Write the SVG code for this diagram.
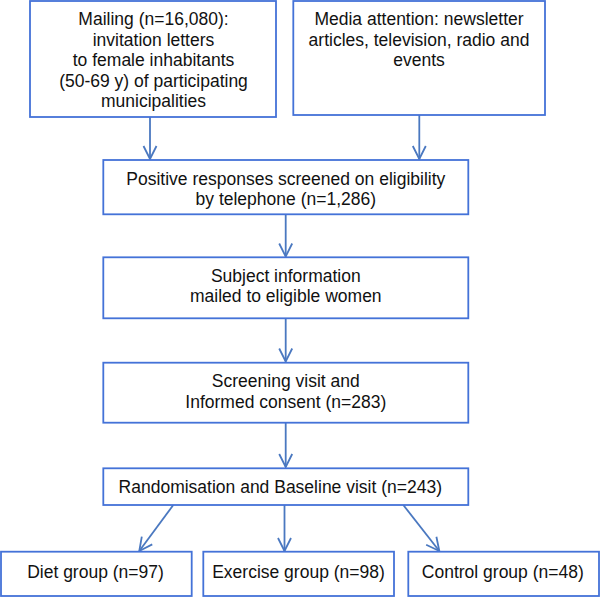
<svg xmlns="http://www.w3.org/2000/svg" width="600" height="597" viewBox="0 0 600 597">
<style>
.box{fill:#fff;stroke:#4472d8;stroke-width:1.8}
.t{font-family:"Liberation Sans",Arial,sans-serif;font-size:17.5px;fill:#111;text-anchor:middle}
.c{stroke:#4a78c0;stroke-width:1.8;fill:none}
</style>
<defs>
<marker id="ah" markerUnits="userSpaceOnUse" markerWidth="20" markerHeight="20" viewBox="-15 -10 20 20" refX="0" refY="0" orient="auto">
<path d="M-13,-6.5 L0,0 L-13,6.5" fill="none" stroke="#4a78c0" stroke-width="1.8"/>
</marker>
</defs>
<rect width="600" height="597" fill="#fff"/>
<g id="connectors">
<line class="c" x1="150" y1="117" x2="150" y2="159" marker-end="url(#ah)"/>
<line class="c" x1="419.3" y1="115" x2="419.3" y2="159" marker-end="url(#ah)"/>
<line class="c" x1="285.7" y1="214.3" x2="285.7" y2="256.5" marker-end="url(#ah)"/>
<line class="c" x1="285.7" y1="318.3" x2="285.7" y2="361.5" marker-end="url(#ah)"/>
<line class="c" x1="285.7" y1="422.7" x2="285.7" y2="467" marker-end="url(#ah)"/>
<line class="c" x1="173.3" y1="505" x2="139.3" y2="551" marker-end="url(#ah)"/>
<line class="c" x1="284.5" y1="505" x2="284.5" y2="551" marker-end="url(#ah)"/>
<line class="c" x1="403.3" y1="505" x2="439.3" y2="551" marker-end="url(#ah)"/>
</g>
<g id="mailing">
<rect class="box" x="30" y="1" width="246" height="116"/>
<text class="t" x="153.5" y="25">Mailing (n=16,080):</text>
<text class="t" x="153.5" y="45.5">invitation letters</text>
<text class="t" x="153.5" y="66">to female inhabitants</text>
<text class="t" x="153.5" y="86.5">(50-69 y) of participating</text>
<text class="t" x="153.5" y="107">municipalities</text>
</g>
<g id="media">
<rect class="box" x="293.3" y="1" width="251.7" height="114"/>
<text class="t" x="419" y="25">Media attention: newsletter</text>
<text class="t" x="419" y="45.5">articles, television, radio and</text>
<text class="t" x="419" y="66">events</text>
</g>
<g id="screened">
<rect class="box" x="103.3" y="160" width="365" height="54.3"/>
<text class="t" x="285.8" y="184.5">Positive responses screened on eligibility</text>
<text class="t" x="285.8" y="205">by telephone (n=1,286)</text>
</g>
<g id="subjectinfo">
<rect class="box" x="103.3" y="257.3" width="365" height="61"/>
<text class="t" x="285.8" y="281.5">Subject information</text>
<text class="t" x="285.8" y="302">mailed to eligible women</text>
</g>
<g id="screeningvisit">
<rect class="box" x="103.3" y="362.7" width="365" height="60"/>
<text class="t" x="285.8" y="387">Screening visit and</text>
<text class="t" x="285.8" y="407.7">Informed consent (n=283)</text>
</g>
<g id="randomisation">
<rect class="box" x="103.3" y="468.3" width="365" height="36.7"/>
<text class="t" x="280.3" y="493.3">Randomisation and Baseline visit (n=243)</text>
</g>
<g id="diet">
<rect class="box" x="1" y="551.7" width="190.7" height="44.3"/>
<text class="t" x="95.5" y="578.3">Diet group (n=97)</text>
</g>
<g id="exercise">
<rect class="box" x="203.3" y="551.7" width="190.7" height="44.3"/>
<text class="t" x="298.5" y="578.3">Exercise group (n=98)</text>
</g>
<g id="control">
<rect class="box" x="408.3" y="551.7" width="190.7" height="44.3"/>
<text class="t" x="502.8" y="578.3">Control group (n=48)</text>
</g>
</svg>
